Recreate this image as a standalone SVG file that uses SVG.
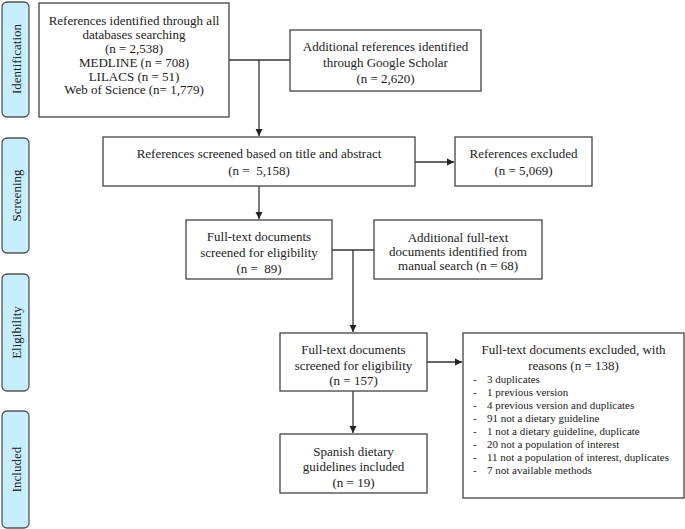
<svg xmlns="http://www.w3.org/2000/svg" width="685" height="529" viewBox="0 0 685 529">
<defs>
<style>
.box{fill:#fff;stroke:#444;stroke-width:1.3}
.side{fill:#c6eefc;stroke:#555;stroke-width:1.3}
text{font-family:"Liberation Serif","Times New Roman",serif;font-size:13px;fill:#222;text-anchor:middle}
.pre{white-space:pre}
.sm{font-size:11px;text-anchor:start}
.ln{stroke:#333;stroke-width:1.3;fill:none}
</style>
<marker id="ah" markerWidth="8" markerHeight="8" refX="7" refY="4" orient="auto" markerUnits="userSpaceOnUse">
<path d="M0,0.5 L7,4 L0,7.5 Z" fill="#222"/>
</marker>
</defs>
<rect width="685" height="529" fill="#fff"/>

<g id="phase-identification"><rect class="side" x="2" y="2" width="27" height="115" rx="5"/><text transform="translate(20.5,59) rotate(-90)">Identification</text></g>
<g id="phase-screening"><rect class="side" x="2" y="138" width="27" height="115" rx="5"/><text transform="translate(20.5,195.5) rotate(-90)">Screening</text></g>
<g id="phase-eligibility"><rect class="side" x="2" y="274" width="27" height="117" rx="5"/><text transform="translate(20.5,332.5) rotate(-90)">Eligibility</text></g>
<g id="phase-included"><rect class="side" x="2" y="411" width="27" height="117" rx="5"/><text transform="translate(20.5,469.5) rotate(-90)">Included</text></g>

<g id="connectors">
<path class="ln" d="M229,60 H290"/>
<path class="ln" d="M259,60 V136" marker-end="url(#ah)"/>
<path class="ln" d="M415,162 H454" marker-end="url(#ah)"/>
<path class="ln" d="M259,186 V219" marker-end="url(#ah)"/>
<path class="ln" d="M332,250 H374"/>
<path class="ln" d="M353,250 V332" marker-end="url(#ah)"/>
<path class="ln" d="M427,362 H462" marker-end="url(#ah)"/>
<path class="ln" d="M353,391 V433" marker-end="url(#ah)"/>
</g>

<g id="n1"><rect class="box" x="39" y="3" width="190" height="114"/>
<text x="134" y="24.5">References identified through all</text>
<text x="134" y="38.5">databases searching</text>
<text x="134" y="52.5">(n = 2,538)</text>
<text x="134" y="66.5">MEDLINE (n = 708)</text>
<text x="134" y="80.5">LILACS (n = 51)</text>
<text x="134" y="94">Web of Science (n= 1,779)</text></g>

<g id="n2"><rect class="box" x="290" y="30" width="191" height="61"/>
<text x="385.5" y="50.5">Additional references identified</text>
<text x="385.5" y="66.5">through Google Scholar</text>
<text x="385.5" y="82.5">(n = 2,620)</text></g>

<g id="n3"><rect class="box" x="103" y="137" width="312" height="49"/>
<text x="259" y="157.5">References screened based on title and abstract</text>
<text class="pre" x="259" y="174.5">(n =  5,158)</text></g>

<g id="n4"><rect class="box" x="455" y="137" width="137" height="49"/>
<text x="523.5" y="157.5">References excluded</text>
<text x="523.5" y="174.5">(n = 5,069)</text></g>

<g id="n5"><rect class="box" x="186" y="220" width="146" height="59"/>
<text x="259" y="240.5">Full-text documents</text>
<text x="259" y="256.5">screened for eligibility</text>
<text class="pre" x="259" y="273">(n =  89)</text></g>

<g id="n6"><rect class="box" x="374" y="220" width="168" height="59"/>
<text x="458" y="241.5">Additional full-text</text>
<text x="458" y="255.5">documents identified from</text>
<text x="458" y="269.5">manual search (n = 68)</text></g>

<g id="n7"><rect class="box" x="280" y="333" width="147" height="58"/>
<text x="353.5" y="353.5">Full-text documents</text>
<text x="353.5" y="369.5">screened for eligibility</text>
<text x="353.5" y="385">(n = 157)</text></g>

<g id="n8"><rect class="box" x="280" y="434" width="147" height="59"/>
<text x="353.5" y="456">Spanish dietary</text>
<text x="353.5" y="471">guidelines included</text>
<text x="353.5" y="487">(n = 19)</text></g>

<g id="n9"><rect class="box" x="463" y="333" width="221" height="165"/>
<text x="573.5" y="353.5">Full-text documents excluded, with</text>
<text x="573.5" y="369.5">reasons (n = 138)</text>
<g class="items">
<text class="sm" x="473" y="383">-</text><text class="sm" x="487" y="383">3 duplicates</text>
<text class="sm" x="473" y="396">-</text><text class="sm" x="487" y="396">1 previous version</text>
<text class="sm" x="473" y="409">-</text><text class="sm" x="487" y="409">4 previous version and duplicates</text>
<text class="sm" x="473" y="422">-</text><text class="sm" x="487" y="422">91 not a dietary guideline</text>
<text class="sm" x="473" y="435">-</text><text class="sm" x="487" y="435">1 not a dietary guideline, duplicate</text>
<text class="sm" x="473" y="448">-</text><text class="sm" x="487" y="448">20 not a population of interest</text>
<text class="sm" x="473" y="461">-</text><text class="sm" x="487" y="461">11 not a population of interest, duplicates</text>
<text class="sm" x="473" y="474">-</text><text class="sm" x="487" y="474">7 not available methods</text>
</g></g>
</svg>
